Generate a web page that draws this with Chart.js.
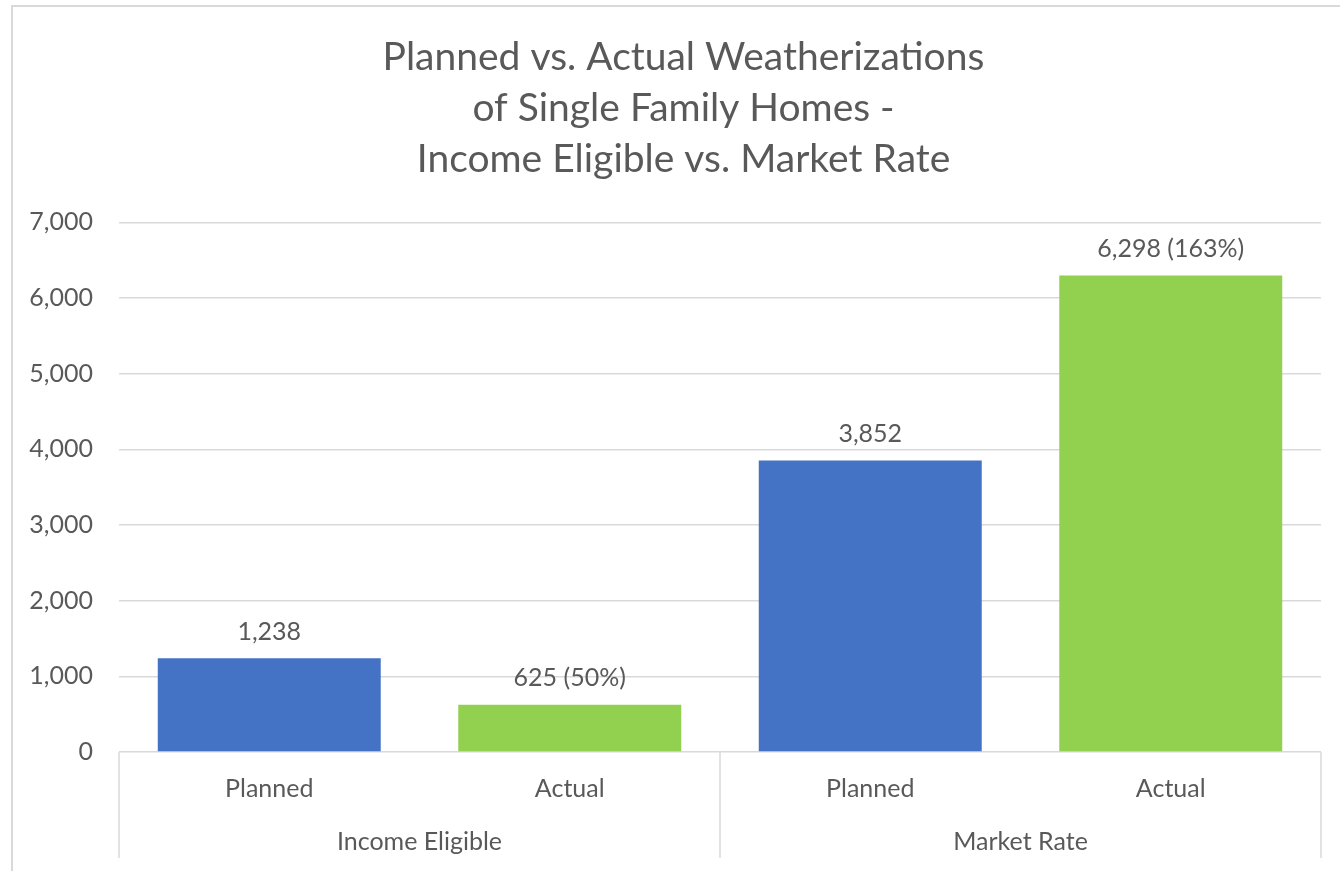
<!DOCTYPE html>
<html>
<head>
<meta charset="utf-8">
<script src="https://cdn.jsdelivr.net/npm/chart.js@4.4.1/dist/chart.umd.min.js"></script>
<style>
html,body{margin:0;padding:0;background:#fff;overflow:hidden;}
#wrap{position:absolute;left:0;top:0;width:1340px;height:871px;}
</style>
</head>
<body>
<div id="wrap"><canvas id="c" width="1340" height="871"></canvas></div>
<script>
const titleLines = ["Planned vs. Actual Weatherizations", "of Single Family Homes -", "Income Eligible vs. Market Rate"];
const subCategories = ["Planned", "Actual", "Planned", "Actual"];
const groups = ["Income Eligible", "Market Rate"];
const values = [1238, 625, 3852, 6298];
const valueLabels = ["1,238", "625 (50%)", "3,852", "6,298 (163%)"];
const barColors = ["#4472C4", "#92D050", "#4472C4", "#92D050"];
const yTicks = [0, 1000, 2000, 3000, 4000, 5000, 6000, 7000];

const FONT = "Lato";
const TXT = "#595959";
const GRID = "#D9D9D9";

const deco = {
  id: "deco",
  afterLayout(chart) {
    const t = chart.titleBlock;
    if (t) { t.left += 17; t.right += 17; }
  },
  beforeDraw(chart) {
    const ctx = chart.ctx;
    ctx.save();
    ctx.strokeStyle = GRID;
    ctx.lineWidth = 2;
    ctx.beginPath();
    ctx.moveTo(12, 871);
    ctx.lineTo(12, 6);
    ctx.lineTo(1340, 6);
    ctx.stroke();
    ctx.restore();
  },
  afterDraw(chart) {
    const ctx = chart.ctx;
    const x = chart.scales.x;
    const a = chart.chartArea;
    ctx.save();
    ctx.strokeStyle = GRID;
    ctx.lineWidth = 1.5;
    const mid = (x.getPixelForValue(1) + x.getPixelForValue(2)) / 2;
    [a.left, mid, a.right].forEach(px => {
      ctx.beginPath();
      ctx.moveTo(px, a.bottom);
      ctx.lineTo(px, 858);
      ctx.stroke();
    });
    const meta = chart.getDatasetMeta(0);
    ctx.fillStyle = TXT;
    ctx.font = "25px " + FONT;
    ctx.textAlign = "center";
    ctx.textBaseline = "bottom";
    meta.data.forEach((bar, i) => {
      ctx.fillText(valueLabels[i], bar.x, bar.y - 14);
    });
    ctx.restore();
  }
};

new Chart(document.getElementById("c"), {
  type: "bar",
  data: {
    labels: subCategories,
    datasets: [{
      data: values,
      backgroundColor: barColors,
      borderWidth: 0,
      categoryPercentage: 1,
      barPercentage: 0.742
    }]
  },
  options: {
    responsive: false,
    animation: false,
    devicePixelRatio: 1,
    layout: { padding: { left: 12, right: 19, top: 32, bottom: 0 } },
    plugins: {
      legend: { display: false },
      tooltip: { enabled: false },
      title: {
        display: true,
        text: titleLines,
        color: TXT,
        font: { family: FONT, size: 39, weight: "normal", lineHeight: 1.31 },
        padding: { top: 0, bottom: 37 }
      }
    },
    scales: {
      y: {
        min: 0, max: 7000,
        afterBuildTicks(s) { s.ticks = yTicks.map(v => ({ value: v })); },
        afterFit(s) { s.width = 107; },
        grid: { color: GRID, lineWidth: 1.5, drawTicks: false },
        border: { display: false },
        ticks: {
          color: TXT, padding: 26,
          font: { family: FONT, size: 25 },
          callback: v => v.toLocaleString("en-US")
        }
      },
      x: {
        afterFit(s) { s.height = 61; },
        grid: { display: false },
        border: { display: false },
        ticks: { color: TXT, padding: 14, font: { family: FONT, size: 25 } }
      },
      x2: {
        type: "category",
        labels: groups,
        position: "bottom",
        display: true,
        offset: true,
        afterFit(s) { s.height = 58; },
        grid: { display: false },
        border: { display: false },
        ticks: { color: TXT, padding: 6, font: { family: FONT, size: 25 } }
      }
    }
  },
  plugins: [deco]
});
</script>
</body>
</html>
